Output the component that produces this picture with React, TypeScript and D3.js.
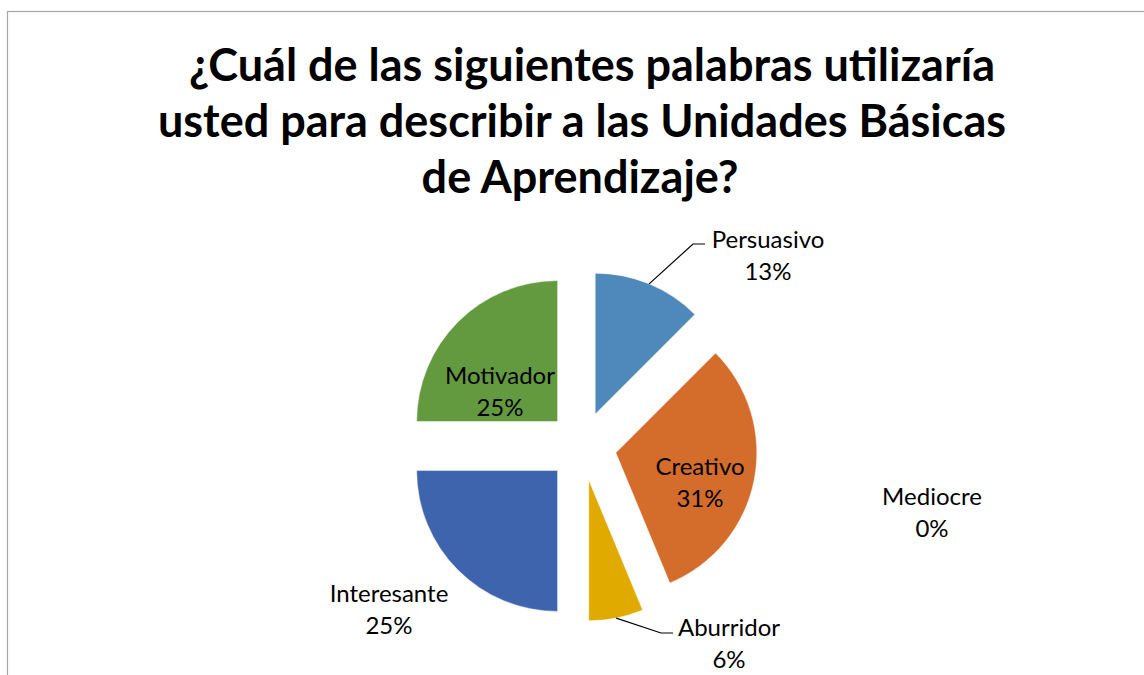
import React from "react";
import * as d3 from "d3";

const categories = ["Persuasivo", "Creativo", "Aburridor", "Mediocre", "Interesante", "Motivador"];
const counts = [2, 5, 1, 0, 4, 4];
const colors = ["#4f89bc", "#d46c2c", "#e1aa00", "#8064a2", "#3e64ad", "#649a3f"];
const titleLines = [
  "\u00bfCu\u00e1l de las siguientes palabras utilizar\u00eda",
  "usted para describir a las Unidades B\u00e1sicas",
  "de Aprendizaje?",
];

// label layout: vertical center of first text line
const labelPos: { x: number; y: number; leader?: boolean }[] = [
  { x: 768, y: 240, leader: true },
  { x: 700, y: 467 },
  { x: 729, y: 628, leader: true },
  { x: 932, y: 497 },
  { x: 389, y: 594 },
  { x: 500, y: 376 },
];

export default function App() {
  const W = 1144, H = 675;
  const cx = 582, cy = 446, r = 141, explode = 34.5;
  const total = d3.sum(counts);
  const pie = d3.pie<number>().sort(null).startAngle(0).endAngle(2 * Math.PI);
  const arcs = pie(counts);
  const arc = d3.arc<d3.PieArcDatum<number>>().innerRadius(0).outerRadius(r);
  const pct = d3.format(".0%");
  const font = "Lato, 'Open Sans', sans-serif";
  const titleDx = [10, 0, -2];

  return (
    <svg width={W} height={H} style={{ position: "absolute", left: 0, top: 0, background: "#fff" }}>
      <rect x={7.5} y={11.5} width={1300} height={800} fill="#fff" stroke="#a6a6a6" strokeWidth={1.2} />
      {titleLines.map((t, i) => (
        <text key={i} x={582 + titleDx[i]} y={81 + i * 56} textAnchor="middle" fontFamily={font} fontWeight={700} fontSize={45} fill="#000">
          {t}
        </text>
      ))}
      {arcs.map((a, i) => {
        if (a.value === 0) return null;
        const mid = (a.startAngle + a.endAngle) / 2;
        const ox = cx + explode * Math.sin(mid);
        const oy = cy - explode * Math.cos(mid);
        return (
          <g key={i} transform={`translate(${ox},${oy})`}>
            <path d={arc(a) || ""} fill={colors[i]} stroke="#fff" strokeWidth={0.5} />
          </g>
        );
      })}
      {arcs.map((a, i) => {
        const lp = labelPos[i];
        const mid = (a.startAngle + a.endAngle) / 2;
        const ox = cx + explode * Math.sin(mid);
        const oy = cy - explode * Math.cos(mid);
        let leader = null;
        if (lp.leader) {
          const sx = ox + r * Math.sin(mid);
          const sy = oy - r * Math.cos(mid);
          const ly = i === 0 ? lp.y + 4 : lp.y + 5;
          const ex = lp.x - (i === 0 ? 63 : 56);
          const bx = ex - 12;
          leader = (
            <polyline points={`${sx},${sy} ${bx},${ly} ${ex},${ly}`} fill="none" stroke="#000" strokeWidth={1.2} />
          );
        }
        return (
          <g key={"l" + i}>
            {leader}
            <text x={lp.x} y={lp.y + 8} textAnchor="middle" fontFamily={font} fontSize={24} fill="#000">
              {categories[i]}
            </text>
            <text x={lp.x} y={lp.y + 40} textAnchor="middle" fontFamily={font} fontSize={24} fill="#000">
              {pct(Math.round((counts[i] / total) * 100) / 100)}
            </text>
          </g>
        );
      })}
    </svg>
  );
}
